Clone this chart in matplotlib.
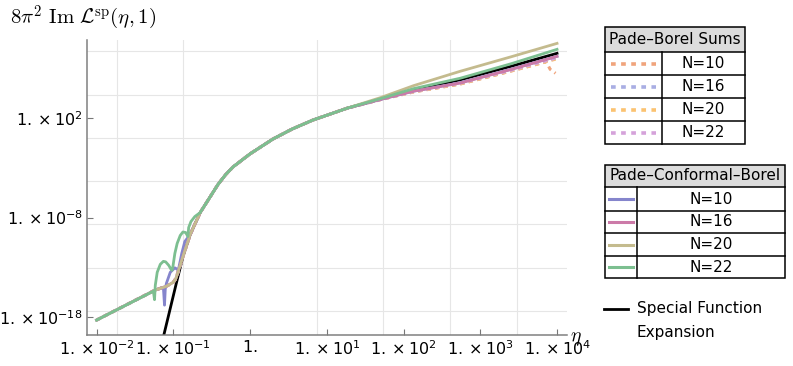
import numpy as np
import matplotlib
matplotlib.use("Agg")
import matplotlib.pyplot as plt
from matplotlib.ticker import FixedLocator, NullFormatter
from matplotlib.patches import Rectangle

plt.rcParams['font.family'] = 'DejaVu Sans'
plt.rcParams['mathtext.fontset'] = 'dejavusans'

#%%
# values, as log10(eta) and log10(8 pi^2 Im L)
left_x = [-2.0, -1.24, -1.09, -1.0, -0.965]
left_y = [-18.3, -15.3, -14.9, -14.5, -14.1]
mid_x = [-0.874, -0.78, -0.65, -0.42, -0.32, -0.22, 0.0, 0.3, 0.55, 0.82, 1.27]
mid_y = [-11.9, -9.7, -7.5, -4.7, -3.7, -2.9, -1.6, -0.1, 0.9, 1.8, 3.0]

# special function expansion
sf_x = [-1.2, -1.13, -0.95] + mid_x + [1.70, 2.13, 2.74, 3.4, 4.0]
sf_y = [-22.0, -20.0, -14.25] + mid_y + [3.9, 4.8, 5.85, 7.2, 8.5]

# Pade-Borel sums (right-hand tails)
pb_labels = ['N=10', 'N=16', 'N=20', 'N=22']
pb_colors = ['#f0a47c', '#a9aee3', '#fbc270', '#d5a2da']
pb_tail_x = [[1.70, 2.13, 2.74, 3.4, 3.86, 3.91, 3.98],
             [1.70, 2.13, 2.74, 3.4, 4.0],
             [1.70, 2.13, 2.74, 3.4, 4.0],
             [1.70, 2.13, 2.74, 3.4, 4.0]]
pb_tail_y = [[3.85, 4.62, 5.42, 6.72, 7.65, 6.9, 6.5],
             [3.85, 4.65, 5.45, 6.75, 8.0],
             [3.85, 4.63, 5.43, 6.73, 7.95],
             [3.86, 4.67, 5.50, 6.80, 8.05]]

# Pade-Conformal-Borel
pcb_labels = ['N=10', 'N=16', 'N=20', 'N=22']
pcb_colors = ['#8585cc', '#cc7aa8', '#c4bb8e', '#7cbf90']
pcb10_x = [-2.0, -1.24, -1.13, -1.115, -1.105, -1.09, -1.04, -0.98, -0.95, -0.93,
           -0.89, -0.85, -0.78] + mid_x[2:] + [1.70, 2.13, 2.74, 3.4, 4.0]
pcb10_y = [-18.3, -15.3, -15.0, -16.8, -15.2, -14.6, -13.5, -13.05, -13.2, -13.1,
           -11.6, -10.4, -9.7] + mid_y[2:] + [3.87, 4.70, 5.55, 6.90, 8.2]
pcb16_x = left_x + mid_x + [1.70, 2.13, 2.74, 3.4, 4.0]
pcb16_y = left_y + mid_y + [3.87, 4.70, 5.52, 6.88, 8.2]
pcb20_x = left_x + mid_x + [1.70, 2.13, 2.74, 3.4, 4.0]
pcb20_y = left_y + mid_y + [4.05, 5.25, 6.7, 8.15, 9.5]
pcb22_x = [-2.0, -1.26, -1.245, -1.235, -1.21, -1.17, -1.13, -1.10, -1.06, -1.03,
           -1.017, -1.005, -0.98, -0.95, -0.91, -0.875, -0.84, -0.81, -0.80, -0.77,
           -0.72] + mid_x[2:] + [1.70, 2.13, 2.74, 3.4, 4.0]
pcb22_y = [-18.3, -15.4, -16.25, -14.8, -13.5, -12.7, -12.4, -12.45, -12.8, -13.2,
           -13.3, -12.9, -11.6, -10.6, -9.8, -9.45, -9.5, -9.9, -9.0, -8.4,
           -7.9] + mid_y[2:] + [3.95, 4.95, 6.0, 7.45, 8.9]
pcb_x = [pcb10_x, pcb16_x, pcb20_x, pcb22_x]
pcb_y = [pcb10_y, pcb16_y, pcb20_y, pcb22_y]

x_ticks = [-2, -1, 0, 1, 2, 3, 4]
x_ticklabels = [r'$1.\times10^{-2}$', r'$1.\times10^{-1}$', r'$1.$', r'$1.\times10^{1}$',
                r'$1.\times10^{2}$', r'$1.\times10^{3}$', r'$1.\times10^{4}$']
y_ticks = [-18, -8, 2]
y_ticklabels = [r'$1.\times10^{-18}$', r'$1.\times10^{-8}$', r'$1.\times10^{2}$']

#%%
W, H = 793, 366
fig = plt.figure(figsize=(W / 100, H / 100), dpi=100)
ax = fig.add_axes([87 / W, 1 - 335 / H, (567 - 87) / W, (335 - 40) / H])
ax.set_xscale('log')
ax.set_yscale('log')

ax.plot(10 ** np.array(sf_x), 10 ** np.array(sf_y), color='black', lw=2, zorder=2)
for xs, ys, c in zip(pb_tail_x, pb_tail_y, pb_colors):
    px = left_x + mid_x + xs
    py = left_y + mid_y + ys
    ax.plot(10 ** np.array(px), 10 ** np.array(py), color=c, lw=2.2,
            ls=(0, (1.4, 1.4)), zorder=3)
for xs, ys, c in zip(pcb_x, pcb_y, pcb_colors):
    ax.plot(10 ** np.array(xs), 10 ** np.array(ys), color=c, lw=2.0, zorder=4)

ax.set_xlim(10 ** -2.125, 10 ** 4.13)
ax.set_ylim(10 ** -19.8, 10 ** 9.84)

ax.set_xticks([10.0 ** t for t in x_ticks], x_ticklabels)
ax.set_yticks([10.0 ** t for t in y_ticks], y_ticklabels)
# grid sits on natural-log positions
ax.xaxis.set_minor_locator(FixedLocator([np.e ** (2 * k) for k in range(-3, 6)]))
ax.yaxis.set_minor_locator(FixedLocator([np.e ** (10 * k) for k in range(-5, 3)]))
ax.xaxis.set_minor_formatter(NullFormatter())
ax.yaxis.set_minor_formatter(NullFormatter())
ax.grid(False)
ax.grid(True, which='minor', color='#e6e6e6', lw=0.8)
ax.tick_params(which='minor', length=0)
ax.tick_params(which='major', direction='in', length=4, color='#777777',
               labelsize=11.5, pad=3)
for s in ['top', 'right']:
    ax.spines[s].set_visible(False)
for s in ['left', 'bottom']:
    ax.spines[s].set_color('#808080')
    ax.spines[s].set_linewidth(1.1)

fig.text(10 / W, 1 - 18 / H, r'$8\pi^2\ \mathrm{Im}\ \mathcal{L}^{\mathrm{sp}}(\eta,1)$',
         math_fontfamily='cm', fontsize=15, va='center', ha='left')
fig.text(576 / W, 1 - 339 / H, r'$\eta$', math_fontfamily='cm', fontsize=14,
         ha='center', va='center')

#%%
# legend tables drawn in pixel space
lg = fig.add_axes([0, 0, 1, 1], zorder=10)
lg.set_xlim(0, W)
lg.set_ylim(H, 0)
lg.axis('off')


def table(left, right, top, title_bot, row_bots, divider, x0, x1, title, labels,
          colors, dashed):
    lg.add_patch(Rectangle((left, top), right - left, title_bot - top,
                           facecolor='#dcdcdc', edgecolor='none'))
    lg.add_patch(Rectangle((left, top), right - left, row_bots[-1] - top,
                           facecolor='none', edgecolor='black', lw=1.1))
    lg.plot([left, right], [title_bot, title_bot], color='black', lw=1.1)
    for yb in row_bots[:-1]:
        lg.plot([left, right], [yb, yb], color='black', lw=1.1)
    lg.plot([divider, divider], [title_bot, row_bots[-1]], color='black', lw=1.1)
    lg.text((left + right) / 2, (top + title_bot) / 2, title, ha='center',
            va='center', fontsize=11)
    tops = [title_bot] + row_bots[:-1]
    for t, b, lab, c in zip(tops, row_bots, labels, colors):
        yc = (t + b) / 2
        if dashed:
            lg.plot([x0, x1], [yc, yc], color=c, lw=2.6, ls=(0, (1.3, 1.5)))
        else:
            lg.plot([x0, x1], [yc, yc], color=c, lw=2.2)
        lg.text((divider + right) / 2, yc, lab, ha='center', va='center', fontsize=11)


table(605, 745, 27, 52, [75, 98, 121, 144], 662, 611, 656, 'Pade\u2013Borel Sums',
      pb_labels, pb_colors, True)
table(605, 785, 165, 187, [211, 233, 256, 278], 637, 609, 633,
      'Pade\u2013Conformal\u2013Borel', pcb_labels, pcb_colors, False)

lg.plot([604, 628], [309, 309], color='black', lw=2)
lg.text(637, 309, 'Special Function', ha='left', va='center', fontsize=11)
lg.text(637, 332, 'Expansion', ha='left', va='center', fontsize=11)

fig.savefig('out.png', dpi=100)
